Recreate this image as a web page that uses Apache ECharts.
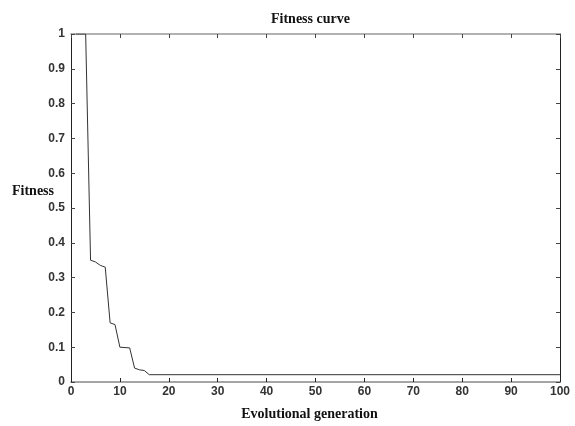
<!DOCTYPE html>
<html>
<head>
    <meta charset="utf-8">
    <title>Fitness curve</title>
    <script src="https://cdn.jsdelivr.net/npm/echarts@6/dist/echarts.min.js"></script>
    <style>
        html, body { margin: 0; padding: 0; background: #fff; }
        #main { width: 575px; height: 426px; }
    </style>
</head>
<body>
    <div id="main"></div>
    <script>
        // generations where the best fitness changes
        const generations = [1, 3, 4, 5, 6, 7, 8, 9, 10, 12, 13, 14, 15, 16, 100];
        const fitness = [1, 1, 0.35, 0.345, 0.335, 0.33, 0.17, 0.165, 0.10, 0.098, 0.04, 0.035, 0.033, 0.021, 0.021];

        const labelFont = 'Liberation Serif, DejaVu Serif, serif';
        const tickFont = { color: '#333', fontSize: 12, fontWeight: 'bold', fontFamily: 'Liberation Sans, Arial, sans-serif' };

        const chart = echarts.init(document.getElementById('main'));

        const option = {
            animation: false,
            title: {
                text: 'Fitness curve',
                left: 266,
                top: 7,
                textStyle: { fontSize: 14, fontWeight: 'bold', color: '#111', fontFamily: labelFont }
            },
            graphic: [{
                type: 'text',
                left: 12,
                top: 184,
                style: { text: 'Fitness', fontSize: 14, fontWeight: 'bold', fill: '#111', fontFamily: labelFont }
            }],
            grid: { left: 71, right: 15, top: 34, bottom: 44 },
            xAxis: [{
                type: 'value', min: 0, max: 100, interval: 10,
                name: 'Evolutional generation', nameLocation: 'middle', nameGap: 25,
                nameTextStyle: { fontSize: 14, fontWeight: 'bold', color: '#111', fontFamily: labelFont, padding: [0, 12, 0, 0] },
                axisLine: { onZero: false, lineStyle: { color: '#888', width: 1.5 } },
                axisTick: { inside: true, length: 4, lineStyle: { color: '#222' } },
                axisLabel: Object.assign({ margin: 4 }, tickFont),
                splitLine: { show: false }
            }, {
                type: 'value', min: 0, max: 100, interval: 10, position: 'top',
                axisLine: { onZero: false, lineStyle: { color: '#999', width: 1.5 } },
                axisTick: { inside: true, length: 4, lineStyle: { color: '#444' } },
                axisLabel: { show: false },
                splitLine: { show: false }
            }],
            yAxis: [{
                type: 'value', min: 0, max: 1, interval: 0.1,
                axisLine: { show: true, onZero: false, lineStyle: { color: '#222' } },
                axisTick: { show: true, inside: true, length: 4, lineStyle: { color: '#444' } },
                axisLabel: Object.assign({ margin: 6, formatter: v => String(Math.round(v * 10) / 10) }, tickFont),
                splitLine: { show: false }
            }, {
                type: 'value', min: 0, max: 1, interval: 0.1, position: 'right',
                axisLine: { show: true, onZero: false, lineStyle: { color: '#222' } },
                axisTick: { show: true, inside: true, length: 4, lineStyle: { color: '#444' } },
                axisLabel: { show: false },
                splitLine: { show: false }
            }],
            series: [{
                type: 'line',
                data: generations.map((g, i) => [g, fitness[i]]),
                showSymbol: false,
                lineStyle: { color: '#333', width: 1 }
            }]
        };

        chart.setOption(option);
    </script>
</body>
</html>
